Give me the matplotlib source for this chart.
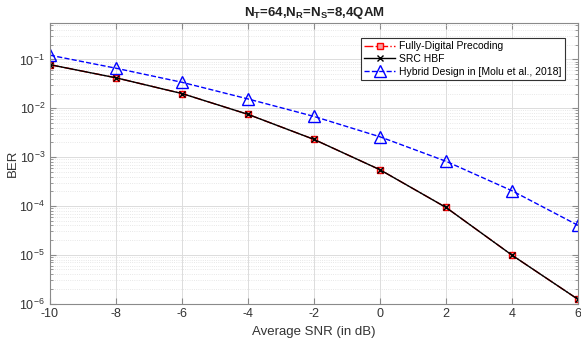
import numpy as np
import matplotlib.pyplot as plt
from matplotlib.ticker import LogLocator, NullFormatter

plt.rcParams['font.family'] = ['Liberation Sans', 'DejaVu Sans']
plt.rcParams['mathtext.fontset'] = 'custom'
plt.rcParams['mathtext.rm'] = 'Liberation Sans'
plt.rcParams['mathtext.bf'] = 'Liberation Sans:bold'
plt.rcParams['mathtext.it'] = 'Liberation Sans:italic'

snr = [-10, -8, -6, -4, -2, 0, 2, 4, 6]
ber_fd = [0.078, 0.042, 0.020, 0.0075, 2.3e-3, 5.5e-4, 9.3e-5, 9.8e-6, 1.22e-6]
ber_src = [0.078, 0.042, 0.020, 0.0075, 2.3e-3, 5.5e-4, 9.3e-5, 9.8e-6, 1.22e-6]
ber_hyb = [0.122, 0.066, 0.034, 0.0155, 0.0068, 2.6e-3, 8.2e-4, 2.04e-4, 4.0e-5]

fig = plt.figure(figsize=(5.81, 3.47), dpi=100)
ax = fig.add_axes([0.086, 0.125, 0.909, 0.808])

ax.semilogy(snr, ber_fd, '-.', color='r', lw=1, marker='s', markersize=5,
            markeredgecolor='r', markerfacecolor='#f4a3a3', label='Fully-Digital Precoding')
ax.semilogy(snr, ber_src, '-', color='k', lw=1, marker='x', markersize=5,
            label='SRC HBF')
ax.semilogy(snr, ber_hyb, '--', color='b', lw=1, marker='^', markersize=8,
            markerfacecolor='none', label='Hybrid Design in [Molu et al., 2018]')

ax.set_xlim(-10, 6)
ax.set_ylim(1e-6, 0.55)
ax.set_xticks(snr)
ax.set_xticklabels([str(s) for s in snr])
ax.yaxis.set_major_locator(LogLocator(base=10, numticks=10))
ax.yaxis.set_minor_locator(LogLocator(base=10, subs=np.arange(2, 10), numticks=20))
ax.yaxis.set_minor_formatter(NullFormatter())

ax.grid(True, which='major', color='#dcdcdc', lw=0.7)
ax.grid(True, which='minor', axis='y', color='#e0e0e0', lw=0.6, ls=':')
ax.set_axisbelow(True)

for s in ax.spines.values():
    s.set_color('#8a8a8a')
    s.set_linewidth(0.8)
ax.tick_params(which='both', direction='in', top=True, right=True, colors='#8a8a8a',
               labelcolor='#333333', labelsize=9)
ax.tick_params(which='major', length=4)
ax.tick_params(which='minor', length=2)

ax.set_xlabel('Average SNR (in dB)', fontsize=9.5, color='#333333')
ax.set_ylabel('BER', fontsize=9.5, color='#333333')
ax.yaxis.set_label_coords(-0.058, 0.5)
ax.set_title(r'N$_\mathbf{T}$=64,N$_\mathbf{R}$=N$_\mathbf{S}$=8,4QAM', fontsize=9.5,
             fontweight='bold', color='#222222', pad=5)

leg = ax.legend(loc='upper right', bbox_to_anchor=(0.985, 0.965), fontsize=7.5,
                fancybox=False, framealpha=1, edgecolor='#333333',
                borderpad=0.3, labelspacing=0.25, handlelength=3.0, handletextpad=0.4)
leg.get_frame().set_linewidth(0.8)

fig.savefig('out.png', dpi=100)
